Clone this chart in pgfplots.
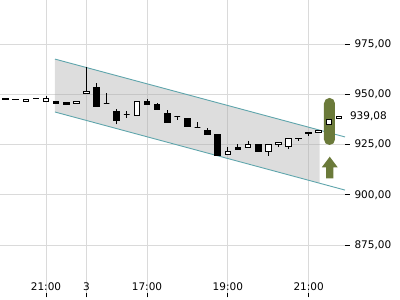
\documentclass[border=0pt]{standalone}
\usepackage{fontspec}
\setmainfont{DejaVu Sans}
\usepackage{pgfplots}
\usepackage{pgfplotstable}
\pgfplotsset{compat=1.18}
\definecolor{gridc}{RGB}{218,218,218}
\definecolor{chanfill}{RGB}{170,170,170}
\definecolor{chanline}{RGB}{95,165,172}
\definecolor{olivec}{RGB}{107,122,58}

\pgfplotstableread{
i o h l c
-4 947.8 947.8 947.5 947.5
-3 947.5 947.5 947.2 947.2
-2 946.6 947.4 946.6 947.4
-1 948.0 948.0 947.7 947.7
0 946.6 949.3 946.6 947.9
1 946.3 946.3 945.5 945.5
2 945.9 945.9 944.9 944.9
3 945.4 946.5 945.4 946.5
4 950.2 963.7 950.2 951.6
5 953.6 955.5 944.2 944.2
6 945.4 950.8 945.4 945.4
7 941.7 942.5 935.1 937.1
8 940.1 941.7 938.4 940.1
9 939.5 946.6 939.5 946.6
10 946.6 947.5 945.2 945.2
11 945.0 945.8 942.7 942.7
12 940.6 942.2 936.2 936.2
13 938.9 938.9 937.3 938.9
14 937.9 937.9 934.1 934.1
15 933.6 936.1 933.6 933.6
16 932.1 933.1 930.0 930.0
17 929.9 929.9 919.7 919.7
18 920.1 924.0 920.1 921.5
19 923.4 925.1 922.5 922.5
20 923.5 926.8 923.5 924.9
21 924.9 924.9 921.7 921.7
22 921.5 924.9 919.5 924.9
23 924.9 926.2 923.7 926.2
24 923.9 928.2 922.8 928.2
25 928.3 928.3 926.8 927.9
26 930.3 931.2 929.4 931.2
27 931.1 932.1 931.1 932.1
28 934.8 937.4 934.8 937.4
29 937.9 939.08 937.9 939.08
}\candles

\begin{document}
\begin{tikzpicture}
\useasboundingbox (0,0) rectangle (400pt,300pt);
\begin{axis}[
  at={(0pt,7pt)}, anchor=south west,
  width=345pt, height=293pt, scale only axis,
  xmin=-4.554, xmax=29.6, ymin=851.24, ymax=996.87,
  axis line style={draw=none},
  xtick={0,4,10,18,26}, xticklabels={21:00,3,17:00,19:00,21:00},
  ytick={875,900,925,950,975},
  xtick pos=left, ytick pos=right,
  yticklabel pos=right,
  tick align=outside, major tick length=4.5pt,
  tick style={black, line width=0.8pt},
  grid=major, grid style={gridc, line width=0.8pt},
  tick label style={font=\fontsize{10.5}{12}\selectfont},
  y tick label style={/pgf/number format/fixed, /pgf/number format/fixed zerofill,
    /pgf/number format/precision=2, /pgf/number format/use comma,
    /pgf/number format/1000 sep={}, /pgf/number format/assume math mode=true,
    anchor=west, xshift=1.5pt},
  x tick label style={anchor=base, yshift=6.5pt},
  extra y ticks={939.08},
  extra y tick style={major tick length=0pt, grid=none},
  clip=false,
]
\addplot[fill=chanfill, fill opacity=0.4, draw=none, forget plot] coordinates {(0.89,967.5) (27.1,932.2) (27.1,905.9) (0.89,941.2)} -- cycle;
\addplot[chanline, line width=0.9pt, forget plot] coordinates {(0.89,967.5) (29.6,928.8)};
\addplot[chanline, line width=0.9pt, forget plot] coordinates {(0.89,941.2) (29.6,902.4)};
\fill[olivec, rounded corners=5.5pt] (axis cs:27.52,948.2) rectangle (axis cs:28.61,924.8);
\fill[olivec] (axis cs:28.09,919.0) -- (axis cs:28.88,913.7) -- (axis cs:28.45,913.7) -- (axis cs:28.45,908.2) -- (axis cs:27.72,908.2) -- (axis cs:27.72,913.7) -- (axis cs:27.30,913.7) -- cycle;
\pgfplotsinvokeforeach{0,...,33}{
  \pgfplotstablegetelem{#1}{i}\of\candles \let\ci\pgfplotsretval
  \pgfplotstablegetelem{#1}{o}\of\candles \let\co\pgfplotsretval
  \pgfplotstablegetelem{#1}{h}\of\candles \let\ch\pgfplotsretval
  \pgfplotstablegetelem{#1}{l}\of\candles \let\cl\pgfplotsretval
  \pgfplotstablegetelem{#1}{c}\of\candles \let\cc\pgfplotsretval
  \pgfmathsetmacro\xa{\ci-0.28}
  \pgfmathsetmacro\xb{\ci+0.28}
  \ifdim\cc pt<\co pt \def\bodyc{black}\else\def\bodyc{white}\fi
  \edef\tmp{\noexpand\addplot[black, line width=0.9pt, forget plot] coordinates {(\ci,\cl) (\ci,\ch)};
    \noexpand\addplot[draw=black, fill=\bodyc, line width=0.9pt, forget plot] coordinates {(\xa,\co) (\xb,\co) (\xb,\cc) (\xa,\cc)} -- cycle;}
  \tmp
}
\end{axis}
\end{tikzpicture}
\end{document}
